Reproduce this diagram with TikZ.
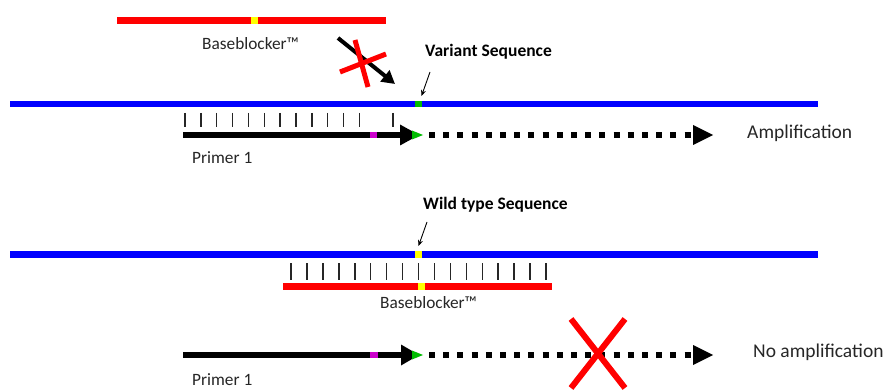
\documentclass[tikz,border=0pt]{standalone}
\usepackage{fontspec}
\setmainfont{Carlito}
\usetikzlibrary{arrows.meta}
\definecolor{txt}{HTML}{262626}
\definecolor{mag}{HTML}{CC00CC}
\definecolor{grn}{HTML}{00BB00}
\definecolor{ylw}{HTML}{FFFF00}
\begin{document}
\begin{tikzpicture}[x=1pt,y=-1pt,
  strand/.style={draw=blue,line width=6.5pt},
  blocker/.style={draw=red,line width=6.5pt},
  bondtick/.style={draw=black!85,line width=1.5pt},
  primerline/.style={draw=black,line width=6.5pt},
  dotline/.style={draw=black,line width=6pt,dash pattern=on 6pt off 8.2pt},
  cross/.style={draw=red,line width=5pt},
  lbl/.style={text=txt,inner sep=0pt,anchor=west,font=\fontsize{17.3}{20}\selectfont},
  biglbl/.style={text=txt,inner sep=0pt,anchor=west,font=\fontsize{19.5}{22}\selectfont},
  boldlbl/.style={text=black,inner sep=0pt,anchor=west,font=\bfseries\fontsize{17.5}{20}\selectfont},
]
\useasboundingbox (0,0) rectangle (888,390);
\fill[white] (0,0) rectangle (888,390);

% ---------------- top: variant ----------------
\coordinate (b1L) at (117,20.3);
\coordinate (b1R) at (385.5,20.3);
\draw[blocker] (b1L) -- (b1R);
\fill[ylw] (251,17) rectangle (258,23.6);
\node[lbl] (bb1) at (202,43.5) {Baseblocker™};

\coordinate (d1s) at (338,38);
\coordinate (d1e) at (395,84);
\draw[draw=black,line width=4pt,-{Triangle[length=13pt,width=14pt]}] (d1s) -- (d1e);
\coordinate (x1a) at (340,72); \coordinate (x1b) at (386,54);
\coordinate (x1c) at (355,40); \coordinate (x1d) at (368,87);
\draw[cross] (x1a) -- (x1b);
\draw[cross] (x1c) -- (x1d);

\node[boldlbl] (var) at (425,52) {Variant Sequence};
\coordinate (va1) at (430,72);
\coordinate (va2) at (421.5,96);
\draw[black,line width=0.9pt,-{Stealth[length=6pt,width=5pt]}] (va1) -- (va2);

\coordinate (s1L) at (10,104);
\coordinate (s1R) at (818,104);
\draw[strand] (s1L) -- (s1R);
\fill[grn] (415,100.7) rectangle (422,107.3);

\foreach \i in {0,...,11} \draw[bondtick] (185+\i*15.85,113) -- (185+\i*15.85,127.5);
\draw[bondtick] (393,113) -- (393,127.5);

\coordinate (p1s) at (183,135);
\coordinate (p1e) at (401,135);
\draw[primerline] (p1s) -- (p1e);
\fill[mag] (370,131.7) rectangle (377.3,138.3);
\fill[black] (400,124.5) -- (419,135) -- (400,145.5) -- cycle;
\fill[grn] (412,130.5) -- (423,135) -- (412,139.5) -- cycle;
\coordinate (q1s) at (429,135);
\coordinate (q1e) at (691,135);
\draw[dotline] (q1s) -- (q1e);
\fill[black] (693,125) -- (713,135) -- (693,145) -- cycle;
\node[biglbl] (amp) at (747,133) {Amplification};
\node[lbl] (pr1) at (192,158) {Primer 1};

% ---------------- bottom: wild type ----------------
\node[boldlbl] (wt) at (423,205) {Wild type Sequence};
\coordinate (wa1) at (427,222);
\coordinate (wa2) at (418.5,246);
\draw[black,line width=0.9pt,-{Stealth[length=6pt,width=5pt]}] (wa1) -- (wa2);

\coordinate (s2L) at (10,254.7);
\coordinate (s2R) at (818,254.7);
\draw[strand] (s2L) -- (s2R);
\fill[ylw] (414.5,251.4) rectangle (422,258);

\foreach \i in {0,...,16} \draw[bondtick] (291+\i*15.94,263.3) -- (291+\i*15.94,280);

\coordinate (b2L) at (283,286.3);
\coordinate (b2R) at (551.7,286.3);
\draw[blocker] (b2L) -- (b2R);
\fill[ylw] (417.5,283) rectangle (425,289.6);
\node[lbl] (bb2) at (380,303) {Baseblocker™};

\coordinate (p2s) at (183,355);
\coordinate (p2e) at (402,355);
\draw[primerline] (p2s) -- (p2e);
\fill[mag] (370,351.7) rectangle (377.7,358.3);
\fill[black] (401,344.5) -- (419,355) -- (401,365.5) -- cycle;
\fill[grn] (412,350.5) -- (423,355) -- (412,359.5) -- cycle;
\coordinate (q2s) at (429,355);
\coordinate (q2e) at (691,355);
\draw[dotline] (q2s) -- (q2e);
\fill[black] (693,345) -- (713,355) -- (693,365) -- cycle;
\coordinate (x2a) at (571,319); \coordinate (x2b) at (625,388);
\coordinate (x2c) at (625,319); \coordinate (x2d) at (571,388);
\draw[cross,line width=6pt] (x2a) -- (x2b);
\draw[cross,line width=6pt] (x2c) -- (x2d);
\node[biglbl] (noamp) at (753,352) {No amplification};
\node[lbl] (pr2) at (192,380) {Primer 1};
\end{tikzpicture}
\end{document}
